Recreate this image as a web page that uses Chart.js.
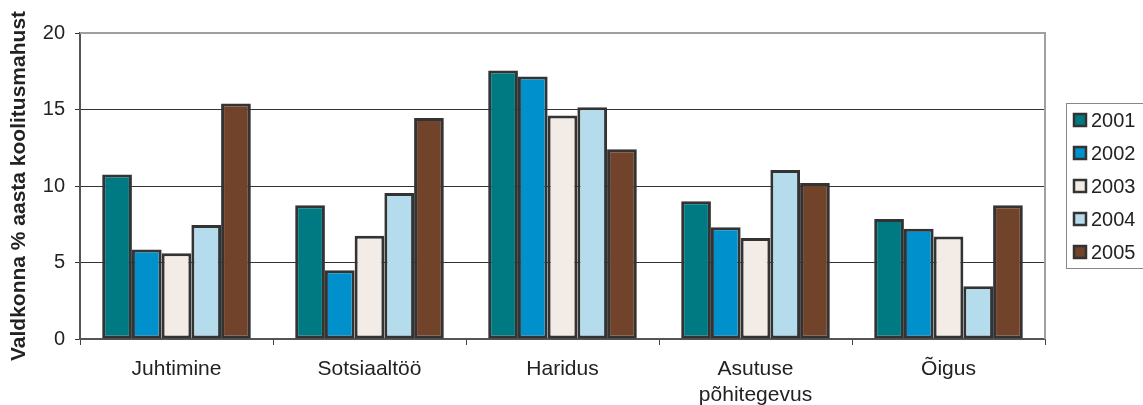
<!DOCTYPE html>
<html>
<head>
<meta charset="utf-8">
<script src="https://cdn.jsdelivr.net/npm/chart.js@4"></script>
<style>
  html, body { margin: 0; padding: 0; background: #fff; }
  #wrap { width: 1143px; height: 405px; }
</style>
</head>
<body>
<div id="wrap"><canvas id="c" width="1143" height="405"></canvas></div>
<script>
// Training volume share per field, by year
const categories = ['Juhtimine', 'Sotsiaaltöö', 'Haridus', ['Asutuse', 'põhitegevus'], 'Õigus'];
const years = ['2001', '2002', '2003', '2004', '2005'];
const v2001 = [10.75, 8.75, 17.55, 9.0, 7.85];
const v2002 = [5.85, 4.5, 17.15, 7.3, 7.2];
const v2003 = [5.6, 6.75, 14.6, 6.6, 6.7];
const v2004 = [7.45, 9.55, 15.15, 11.05, 3.45];
const v2005 = [15.4, 14.45, 12.4, 10.2, 8.75];
const yTicks = [0, 5, 10, 15, 20];
const yTitle = 'Valdkonna % aasta koolitusmahust';

const series = [v2001, v2002, v2003, v2004, v2005];
const colors = ['#007a82', '#0091cc', '#f3ebe5', '#b5dcec', '#71432b'];
const FONT = '"Liberation Sans", Arial, sans-serif';

// Gray frame on top and right of the plot, plus the boxed legend
const framePlugin = {
  id: 'frame',
  beforeDatasetsDraw(chart) {
    const { ctx, chartArea: a } = chart;
    ctx.save();
    ctx.strokeStyle = '#a0a0a0';
    ctx.lineWidth = 2;
    ctx.beginPath();
    ctx.moveTo(a.left, a.top);
    ctx.lineTo(a.right, a.top);
    ctx.lineTo(a.right, a.bottom);
    ctx.stroke();
    ctx.restore();
  },
  afterDraw(chart) {
    const { ctx, chartArea: a } = chart;
    const ds = chart.data.datasets;
    const step = 33;
    const mid = (a.top + a.bottom) / 2;
    const boxLeft = 1066.5;
    const boxTop = mid - 82.5;
    const boxH = 165;
    ctx.save();
    ctx.strokeStyle = '#888';
    ctx.lineWidth = 1;
    ctx.strokeRect(boxLeft, boxTop, 100, boxH);
    ctx.font = '20px ' + FONT;
    ctx.textBaseline = 'middle';
    ctx.textAlign = 'left';
    ds.forEach((d, i) => {
      const cy = mid + (i - 2) * step;
      ctx.fillStyle = d.backgroundColor;
      ctx.fillRect(1073, cy - 7, 14, 14);
      ctx.strokeStyle = '#333';
      ctx.lineWidth = 2.5;
      ctx.strokeRect(1074, cy - 6, 12, 12);
      ctx.fillStyle = '#222';
      ctx.fillText(d.label, 1091, cy + 1);
    });
    ctx.restore();
  }
};

new Chart(document.getElementById('c'), {
  type: 'bar',
  data: {
    labels: categories,
    datasets: years.map((y, i) => ({
      label: y,
      data: series[i],
      backgroundColor: colors[i],
      borderColor: '#333',
      borderWidth: 3,
      borderSkipped: false,
      categoryPercentage: 0.77,
      barPercentage: 1.0
    }))
  },
  options: {
    responsive: false,
    animation: false,
    events: [],
    layout: { padding: { left: 0, right: 98, top: 33, bottom: 0 } },
    plugins: { legend: { display: false }, tooltip: { enabled: false } },
    scales: {
      x: {
        offset: true,
        grid: {
          offset: true,
          drawOnChartArea: false,
          drawTicks: true,
          tickLength: 6,
          color: '#444',
          lineWidth: 1
        },
        border: { display: true, color: '#555', width: 2 },
        ticks: {
          font: { family: FONT, size: 21, lineHeight: 1.2 },
          color: '#222',
          padding: 12,
          maxRotation: 0,
          autoSkip: false
        },
        afterFit(scale) { scale.height = 66; }
      },
      y: {
        min: 0,
        max: 20,
        afterBuildTicks(scale) { scale.ticks = yTicks.map(v => ({ value: v })); },
        grid: {
          color: (c) => (c.tick && c.tick.value === 20 ? 'rgba(0,0,0,0)' : '#333'),
          tickColor: '#333',
          lineWidth: 1,
          tickLength: 5
        },
        border: { display: true, color: '#555', width: 2 },
        ticks: {
          font: { family: FONT, size: 20 },
          color: '#222',
          padding: 10
        },
        title: {
          display: true,
          text: yTitle,
          font: { family: FONT, size: 21, weight: 'bold' },
          color: '#222',
          padding: { top: 7, bottom: 0 }
        },
        afterFit(scale) { scale.width = 80; }
      }
    }
  },
  plugins: [framePlugin]
});
</script>
</body>
</html>
